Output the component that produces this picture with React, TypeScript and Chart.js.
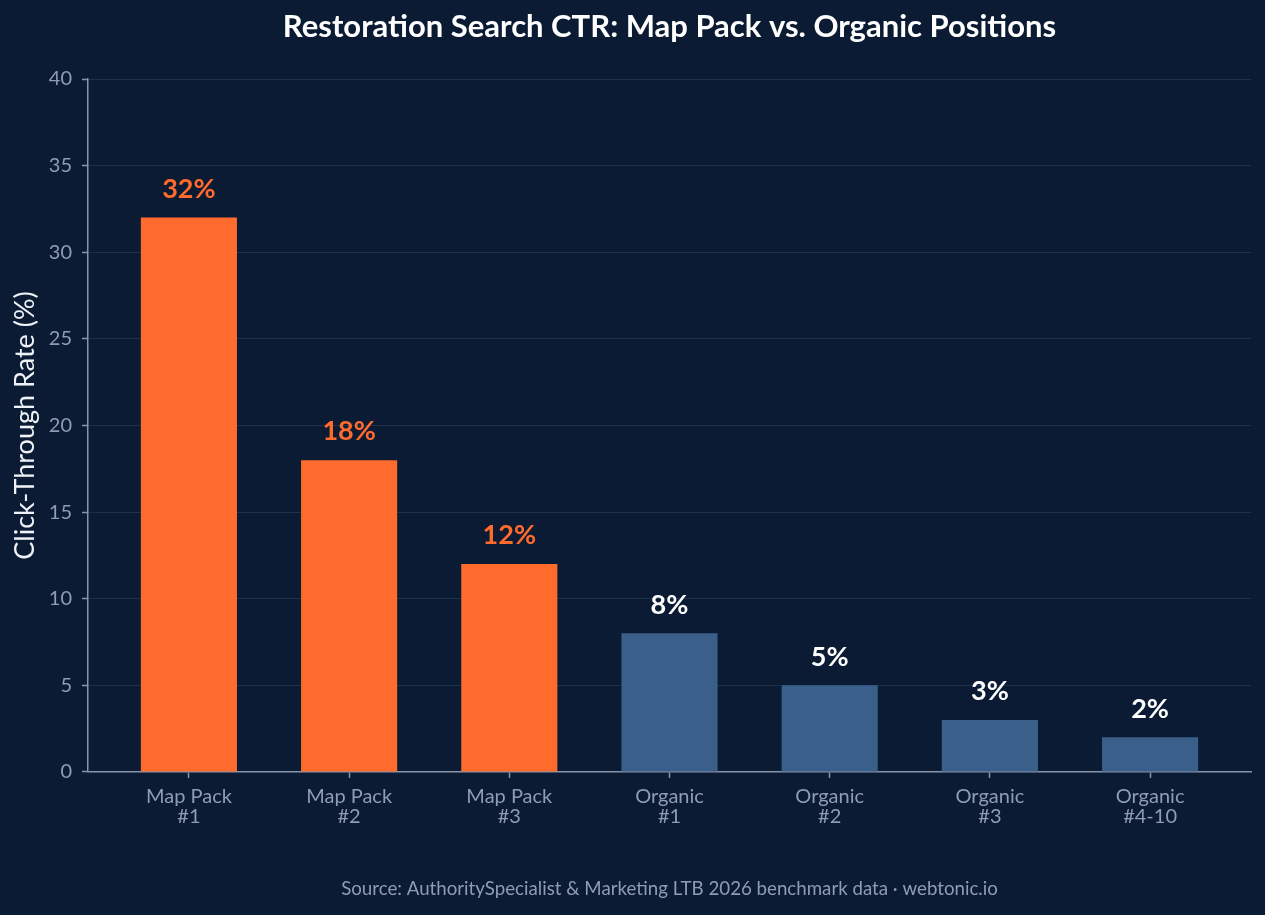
import React, { useEffect, useRef } from 'react';
import { Chart, registerables } from 'chart.js';

Chart.register(...registerables);

const categories: string[][] = [
  ['Map Pack', '#1'],
  ['Map Pack', '#2'],
  ['Map Pack', '#3'],
  ['Organic', '#1'],
  ['Organic', '#2'],
  ['Organic', '#3'],
  ['Organic', '#4-10'],
];
const ctrValues: number[] = [32, 18, 12, 8, 5, 3, 2];
const groups: string[] = ['map', 'map', 'map', 'organic', 'organic', 'organic', 'organic'];
const yMin = 0;
const yMax = 40;
const yStep = 5;
const xRange: [number, number] = [-0.63, 6.63];

const chartTitle = 'Restoration Search CTR: Map Pack vs. Organic Positions';
const yAxisTitle = 'Click-Through Rate (%)';
const sourceNote = 'Source: AuthoritySpecialist & Marketing LTB 2026 benchmark data · webtonic.io';

const BG = '#0b1b34';
const ORANGE = '#ff6b2c';
const BLUE = '#3a5f8a';
const GRID = '#1f304a';
const AXIS = '#8795ab';
const TICK_TEXT = '#8f9db4';
const FONT = 'Lato, "Open Sans", sans-serif';

const barColors = groups.map((g) => (g === 'map' ? ORANGE : BLUE));
const labelColors = groups.map((g) => (g === 'map' ? ORANGE : '#ffffff'));

const backgroundPlugin = {
  id: 'bgFill',
  beforeDraw(chart: any) {
    const { ctx, width, height } = chart;
    ctx.save();
    ctx.fillStyle = BG;
    ctx.fillRect(0, 0, width, height);
    ctx.restore();
  },
};

const barLabelPlugin = {
  id: 'barLabels',
  afterDatasetsDraw(chart: any) {
    const { ctx } = chart;
    const meta = chart.getDatasetMeta(0);
    ctx.save();
    ctx.font = `bold 27px ${FONT}`;
    ctx.textAlign = 'center';
    ctx.textBaseline = 'middle';
    meta.data.forEach((bar: any, i: number) => {
      ctx.fillStyle = labelColors[i];
      ctx.fillText(`${ctrValues[i]}%`, bar.x, bar.y - 28.5);
    });
    ctx.restore();
  },
};

export default function App() {
  const canvasRef = useRef<HTMLCanvasElement | null>(null);

  useEffect(() => {
    document.body.style.margin = '0';
    const canvas = canvasRef.current;
    if (!canvas) return;
    const chart = new Chart(canvas, {
      type: 'bar',
      data: {
        datasets: [
          {
            data: ctrValues.map((v, i) => ({ x: i, y: v })),
            backgroundColor: barColors,
            borderWidth: 0,
            barPercentage: 0.6,
            categoryPercentage: 1,
          },
        ],
      },
      options: {
        responsive: false,
        animation: false,
        devicePixelRatio: 1,
        layout: { padding: { left: 0, right: 14, top: 0, bottom: 0 } },
        plugins: {
          legend: { display: false },
          tooltip: { enabled: false },
          title: {
            display: true,
            text: chartTitle,
            fullSize: false,
            color: '#ffffff',
            font: { family: FONT, size: 31, weight: 'bold' },
            padding: { top: 8.4, bottom: 33.4 },
          },
          subtitle: {
            display: true,
            text: sourceNote,
            position: 'bottom',
            fullSize: false,
            color: TICK_TEXT,
            font: { family: FONT, size: 18.7, weight: 'normal' },
            padding: { top: 10, bottom: 14.8 },
          },
        },
        scales: {
          x: {
            type: 'linear',
            min: xRange[0],
            max: xRange[1],
            offset: false,
            afterBuildTicks: (scale: any) => {
              scale.ticks = categories.map((_, i) => ({ value: i }));
            },
            afterFit: (scale: any) => {
              scale.height = 95.8;
            },
            grid: {
              display: true,
              offset: false,
              drawOnChartArea: false,
              drawTicks: true,
              tickLength: 6,
              tickColor: AXIS,
              tickWidth: 1.5,
              color: AXIS,
            },
            border: { display: true, color: AXIS, width: 1.5 },
            ticks: {
              color: TICK_TEXT,
              font: { family: FONT, size: 20, lineHeight: 1.0 },
              padding: 9,
              maxRotation: 0,
              autoSkip: false,
              callback: (value: any) => categories[Math.round(Number(value))] ?? '',
            },
          },
          y: {
            type: 'linear',
            min: yMin,
            max: yMax,
            afterFit: (scale: any) => {
              scale.width = 88;
            },
            grid: {
              color: GRID,
              lineWidth: 1,
              drawTicks: true,
              tickLength: 6,
              tickColor: AXIS,
              tickWidth: 1.5,
            },
            border: { display: true, color: AXIS, width: 1.5 },
            ticks: {
              stepSize: yStep,
              color: TICK_TEXT,
              font: { family: FONT, size: 20 },
              padding: 10,
            },
            title: {
              display: true,
              text: yAxisTitle,
              color: '#eef2f7',
              font: { family: FONT, size: 27 },
              padding: { top: 9, bottom: 0 },
            },
          },
        },
      },
      plugins: [backgroundPlugin, barLabelPlugin],
    } as any);

    let alive = true;
    if ((document as any).fonts && (document as any).fonts.load) {
      Promise.all([
        (document as any).fonts.load(`bold 28px Lato`),
        (document as any).fonts.load(`18px Lato`),
      ])
        .then(() => {
          if (alive) chart.update();
        })
        .catch(() => {});
    }

    return () => {
      alive = false;
      chart.destroy();
    };
  }, []);

  return (
    <div style={{ position: 'absolute', left: 0, top: 0, width: 1265, height: 915 }}>
      <canvas ref={canvasRef} width={1265} height={915} style={{ width: 1265, height: 915, display: 'block' }} />
    </div>
  );
}
